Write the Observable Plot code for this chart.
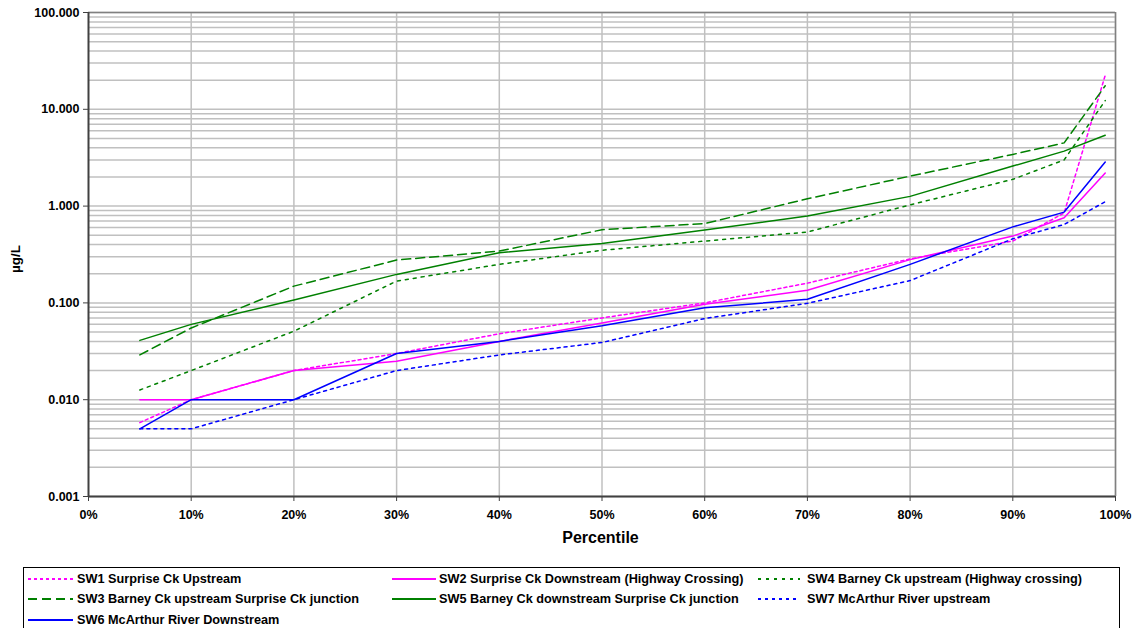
<!DOCTYPE html>
<html><head><meta charset="utf-8">
<script src="https://cdn.jsdelivr.net/npm/d3@7"></script>
<script src="https://cdn.jsdelivr.net/npm/@observablehq/plot@0.6"></script>
<style>
body{margin:0;background:#fff;font-family:"Liberation Sans",Arial,sans-serif;}
#wrap{position:relative;width:1141px;height:628px;overflow:hidden;background:#fff;}
.lbl{position:absolute;font-weight:bold;color:#000;white-space:nowrap;}
#legend{position:absolute;left:23px;top:567px;width:1097px;height:80px;border:1px solid #000;box-sizing:border-box;background:#fff;}
.item{position:absolute;font-size:12.7px;font-weight:bold;white-space:nowrap;height:14px;line-height:14px;}
.item svg{position:absolute;top:0;}
</style></head><body>
<div id="wrap">
<div id="chart"></div>
<div class="lbl" style="left:0;width:1141px;top:529px;text-align:center;font-size:16px;padding-left:60px;box-sizing:border-box;">Percentile</div>
<div class="lbl" style="left:15px;top:259px;font-size:13.5px;transform:translate(-50%,-50%) rotate(-90deg);">µg/L</div>
<div id="legend"></div>
</div>
<script>
// ---- data ----
const percentiles = [5, 10, 20, 30, 40, 50, 60, 70, 80, 90, 95, 99];
const sw1 = [0.0058, 0.010, 0.020, 0.030, 0.048, 0.070, 0.100, 0.160, 0.285, 0.435, 0.85, 22.5];
const sw2 = [0.010, 0.010, 0.020, 0.025, 0.040, 0.062, 0.097, 0.135, 0.280, 0.490, 0.757, 2.2];
const sw3 = [0.029, 0.055, 0.149, 0.277, 0.343, 0.570, 0.660, 1.19, 2.04, 3.42, 4.5, 17.5];
const sw4 = [0.0126, 0.020, 0.051, 0.168, 0.250, 0.350, 0.435, 0.540, 1.03, 1.89, 3.0, 12.3];
const sw5 = [0.041, 0.060, 0.107, 0.197, 0.330, 0.410, 0.565, 0.790, 1.26, 2.59, 3.7, 5.4];
const sw6 = [0.005, 0.010, 0.010, 0.030, 0.040, 0.058, 0.089, 0.109, 0.250, 0.610, 0.867, 2.85];
const sw7 = [0.005, 0.005, 0.010, 0.020, 0.029, 0.039, 0.069, 0.099, 0.170, 0.460, 0.645, 1.11];
const seriesNames = [
  "SW1 Surprise Ck Upstream",
  "SW2 Surprise Ck Downstream (Highway Crossing)",
  "SW3 Barney Ck upstream Surprise Ck junction",
  "SW4 Barney Ck upstream (Highway crossing)",
  "SW5 Barney Ck downstream Surprise Ck junction",
  "SW6 McArthur River Downstream",
  "SW7 McArthur River upstream"
];
const yTicks = [0.001, 0.01, 0.1, 1, 10, 100];
const xTicks = [0, 10, 20, 30, 40, 50, 60, 70, 80, 90, 100];

// ---- styles ----
const seriesValues = [sw1, sw2, sw3, sw4, sw5, sw6, sw7];
const styles = [
  {stroke: "#FF00FF", dash: "3,3"},
  {stroke: "#FF00FF", dash: null},
  {stroke: "#008000", dash: "9,5"},
  {stroke: "#008000", dash: "3,5"},
  {stroke: "#008000", dash: null},
  {stroke: "#0000FF", dash: null},
  {stroke: "#0000FF", dash: "3,4"}
];

const minorGrid = [];
for (let k = -3; k <= 1; k++) for (let m = 1; m <= 9; m++) minorGrid.push(+(m * Math.pow(10, k)).toPrecision(3));
minorGrid.push(100);

const lineMarks = seriesValues.map((vals, i) => {
  const rows = percentiles.map((p, j) => ({p, v: vals[j]}));
  return Plot.line(rows, {x: "p", y: "v", stroke: styles[i].stroke, strokeWidth: 1.5,
    strokeDasharray: styles[i].dash || undefined, strokeLinejoin: "round"});
});

const chart = Plot.plot({
  width: 1141,
  height: 560,
  marginLeft: 88,
  marginRight: 26,
  marginTop: 12,
  marginBottom: 64,
  style: {fontFamily: "'Liberation Sans', Arial, sans-serif", fontSize: "12.5px", fontWeight: "bold", color: "#000", background: "#fff"},
  x: {domain: [0, 100]},
  y: {type: "log", domain: [0.001, 100]},
  marks: [
    Plot.ruleY(minorGrid, {stroke: "#c0c0c0", strokeWidth: 1.5}),
    Plot.ruleX(xTicks.slice(1), {stroke: "#c0c0c0", strokeWidth: 1.5}),
    Plot.ruleY([100], {stroke: "#808080", strokeWidth: 1.5}),
    Plot.ruleX([100], {stroke: "#808080", strokeWidth: 1.5}),
    ...lineMarks,
    Plot.ruleX([0], {stroke: "#404040", strokeWidth: 2}),
    Plot.ruleY([0.001], {stroke: "#404040", strokeWidth: 2}),
    Plot.axisY({ticks: yTicks, tickFormat: d3.format(".3f"), tickSize: 5, tickPadding: 4, label: null, stroke: "#404040", fill: "#000", fontSize: 12.5}),
    Plot.axisX({ticks: xTicks, tickFormat: d => d + "%", tickSize: 5, tickPadding: 9, label: null, stroke: "#404040", fill: "#000", fontSize: 12.5})
  ]
});
document.getElementById("chart").appendChild(chart);

// ---- legend ----
const legendPos = [
  {lx0: 4, lx1: 49, tx: 53, row: 0},
  {lx0: 368, lx1: 412, tx: 415, row: 0},
  {lx0: 4, lx1: 49, tx: 53, row: 1},
  {lx0: 734, lx1: 776, tx: 783, row: 0},
  {lx0: 368, lx1: 412, tx: 415, row: 1},
  {lx0: 4, lx1: 49, tx: 53, row: 2},
  {lx0: 734, lx1: 776, tx: 783, row: 1}
];
const rowTop = [4, 24, 45];
const legend = document.getElementById("legend");
seriesNames.forEach((name, i) => {
  const p = legendPos[i];
  const it = document.createElement("div");
  it.className = "item";
  it.style.left = p.lx0 + "px";
  it.style.top = rowTop[p.row] + "px";
  const w = p.lx1 - p.lx0;
  const s = styles[i];
  it.innerHTML = `<svg width="${w}" height="14" style="left:0"><line x1="0" x2="${w}" y1="7" y2="7" stroke="${s.stroke}" stroke-width="2" ${s.dash ? `stroke-dasharray="${s.dash}"` : ""}/></svg><span style="position:absolute;left:${p.tx - p.lx0}px;top:0">${name}</span>`;
  legend.appendChild(it);
});
</script>
</body></html>
